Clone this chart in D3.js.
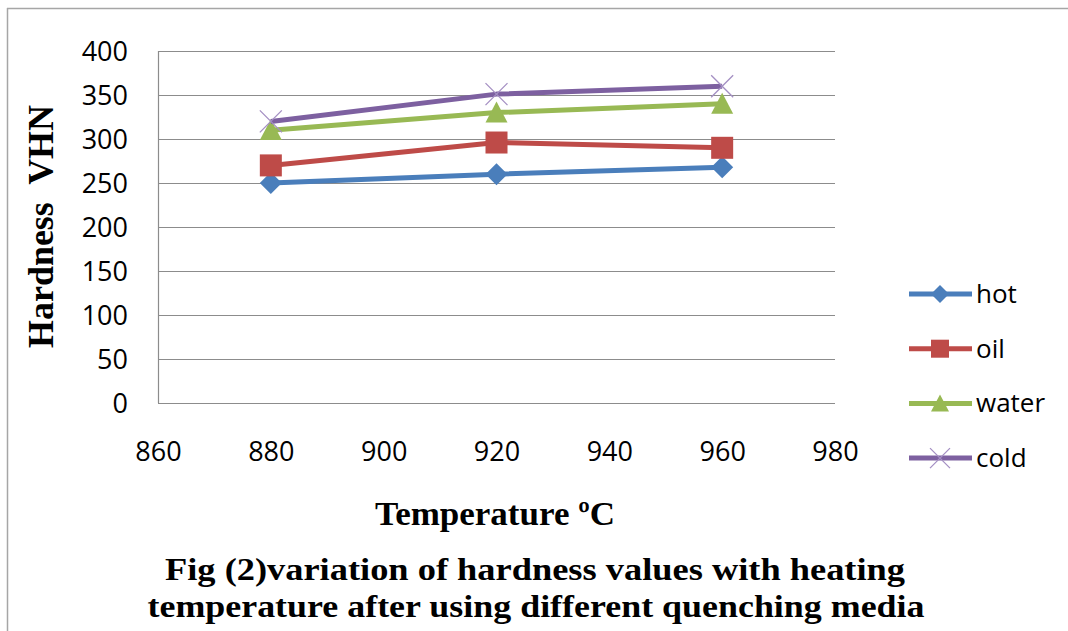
<!DOCTYPE html>
<html>
<head>
<meta charset="utf-8">
<script src="https://cdn.jsdelivr.net/npm/d3@7"></script>
<style>
  body { margin: 0; background: #fff; }
  svg { display: block; }
</style>
</head>
<body>
<div id="container"></div>
<script>
/* chart data */
var temps = [880, 920, 960];
var hot = [250, 260, 268];
var oil = [270, 296, 290];
var water = [310, 330, 340];
var cold = [320, 351, 360];
var seriesNames = ["hot", "oil", "water", "cold"];
var xTicks = [860, 880, 900, 920, 940, 960, 980];
var yTicks = [0, 50, 100, 150, 200, 250, 300, 350, 400];

var colors = { hot: "#4a7ebb", oil: "#be4b48", water: "#98b954", cold: "#7d60a0" };
var values = { hot: hot, oil: oil, water: water, cold: cold };

/* setup the dimensions */
var width = 1068, height = 631;
var plot = { left: 158, right: 835, top: 51, bottom: 403 };

var svg = d3.select("#container")
            .append("svg")
            .attr("width", width)
            .attr("height", height);

// outer frame (top + left edge only visible)
svg.append("line").attr("x1", 7).attr("x2", width).attr("y1", 8.5).attr("y2", 8.5)
   .attr("stroke", "#a6a6a6").attr("stroke-width", 1.5);
svg.append("line").attr("x1", 7.5).attr("x2", 7.5).attr("y1", 8).attr("y2", height)
   .attr("stroke", "#a6a6a6").attr("stroke-width", 1.5);

var x = d3.scaleLinear().domain([860, 980]).range([plot.left, plot.right]);
var y = d3.scaleLinear().domain([0, 400]).range([plot.bottom, plot.top]);

/* gridlines */
svg.append("g")
   .selectAll("line")
   .data(yTicks)
   .enter().append("line")
     .attr("x1", plot.left).attr("x2", plot.right)
     .attr("y1", function(d) { return Math.round(y(d)) + 0.5 })
     .attr("y2", function(d) { return Math.round(y(d)) + 0.5 })
     .attr("stroke", "#8c8c8c").attr("stroke-width", 1.2);

// left axis line
svg.append("line").attr("x1", plot.left + 0.5).attr("x2", plot.left + 0.5)
   .attr("y1", plot.top).attr("y2", plot.bottom)
   .attr("stroke", "#8c8c8c").attr("stroke-width", 1.2);

/* axes tick labels via d3 axes */
var yAxis = svg.append("g")
   .attr("transform", "translate(" + plot.left + ",0)")
   .call(d3.axisLeft(y).tickValues(yTicks).tickSize(0).tickPadding(30));
yAxis.select(".domain").remove();
yAxis.selectAll("text")
   .attr("font-family", "'Open Sans', sans-serif")
   .attr("font-size", 27)
   .attr("fill", "#000")
   .attr("dy", "0.36em");

var xAxis = svg.append("g")
   .attr("transform", "translate(0," + plot.bottom + ")")
   .call(d3.axisBottom(x).tickValues(xTicks).tickSize(0).tickPadding(39));
xAxis.select(".domain").remove();
xAxis.selectAll("text")
   .attr("font-family", "'Open Sans', sans-serif")
   .attr("font-size", 27)
   .attr("fill", "#000");

/* marker shapes */
function marker(sel, name, s) {
  var c = colors[name];
  if (name === "hot") {
    sel.append("path").attr("d", "M0," + (-s) + "L" + s + ",0L0," + s + "L" + (-s) + ",0Z").attr("fill", c);
  } else if (name === "oil") {
    sel.append("rect").attr("x", -s).attr("y", -s).attr("width", 2 * s).attr("height", 2 * s).attr("fill", c);
  } else if (name === "water") {
    sel.append("path").attr("d", "M0," + (-s) + "L" + s + "," + (s * 0.9) + "L" + (-s) + "," + (s * 0.9) + "Z").attr("fill", c);
  } else {
    sel.append("path").attr("d", "M" + (-s) + "," + (-s) + "L" + s + "," + s + "M" + s + "," + (-s) + "L" + (-s) + "," + s)
       .attr("stroke", "#a48fc3").attr("stroke-width", 1.3).attr("fill", "none");
  }
}

var line = d3.line()
  .x(function(d, i) { return x(temps[i]) })
  .y(function(d) { return y(d) });

seriesNames.forEach(function(name) {
  var g = svg.append("g").attr("class", name);
  g.append("path")
   .attr("d", line(values[name]))
   .attr("fill", "none")
   .attr("stroke", colors[name])
   .attr("stroke-width", 5)
   .attr("stroke-linejoin", "round");
  g.selectAll(".pt")
   .data(values[name])
   .enter().append("g")
     .attr("class", "pt")
     .attr("transform", function(d, i) { return "translate(" + x(temps[i]) + "," + y(d) + ")" })
     .each(function() { marker(d3.select(this), name, 11) });
});

/* legend */
var legend = svg.append("g").attr("transform", "translate(909,294)");
seriesNames.forEach(function(name, i) {
  var row = legend.append("g").attr("transform", "translate(0," + (i * 54.7) + ")");
  row.append("line").attr("x1", 0).attr("x2", 63).attr("y1", 0).attr("y2", 0)
     .attr("stroke", colors[name]).attr("stroke-width", 5);
  var m = row.append("g").attr("transform", "translate(31,0)");
  marker(m, name, name === "cold" ? 10 : 9);
  row.append("text").attr("x", 67).attr("y", 9)
     .attr("font-family", "'Open Sans', sans-serif")
     .attr("font-size", 26)
     .text(name);
});

/* titles */
svg.append("text")
   .attr("transform", "translate(53,226.5) rotate(-90)")
   .attr("text-anchor", "middle")
   .attr("font-family", "'Liberation Serif', serif")
   .attr("font-weight", "bold")
   .attr("font-size", 35)
   .attr("textLength", 243)
   .attr("lengthAdjust", "spacingAndGlyphs")
   .attr("xml:space", "preserve")
   .text("Hardness  VHN");

svg.append("text")
   .attr("x", 495).attr("y", 525)
   .attr("text-anchor", "middle")
   .attr("font-family", "'Liberation Serif', serif")
   .attr("font-weight", "bold")
   .attr("font-size", 33)
   .attr("textLength", 240)
   .attr("lengthAdjust", "spacingAndGlyphs")
   .text("Temperature \u00BAC");

svg.append("text")
   .attr("x", 535).attr("y", 580)
   .attr("text-anchor", "middle")
   .attr("font-family", "'Liberation Serif', serif")
   .attr("font-weight", "bold")
   .attr("font-size", 32)
   .attr("textLength", 740)
   .attr("lengthAdjust", "spacingAndGlyphs")
   .text("Fig (2)variation of hardness values with heating");

svg.append("text")
   .attr("x", 536).attr("y", 617)
   .attr("text-anchor", "middle")
   .attr("font-family", "'Liberation Serif', serif")
   .attr("font-weight", "bold")
   .attr("font-size", 32)
   .attr("textLength", 777)
   .attr("lengthAdjust", "spacingAndGlyphs")
   .text("temperature after using different quenching media");
</script>
</body>
</html>
